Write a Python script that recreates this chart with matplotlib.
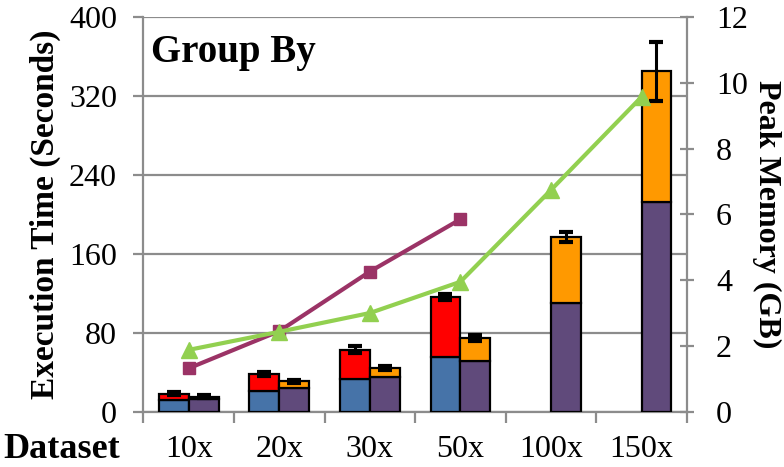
import numpy as np
import matplotlib
matplotlib.use('Agg')
import matplotlib.pyplot as plt
from matplotlib.ticker import FixedLocator

plt.rcParams['font.family'] = ['Liberation Serif', 'DejaVu Serif']

# Dataset scale factors
datasets = ['10x', '20x', '30x', '50x', '100x', '150x']

# Left bar: two-part stacked execution time (seconds)
left_lower = [12, 21, 33, 55.5, np.nan, np.nan]
left_upper = [6, 17, 30, 60.5, np.nan, np.nan]
left_err = [1.5, 2, 3.5, 3, np.nan, np.nan]

# Right bar: two-part stacked execution time (seconds)
right_lower = [12.5, 24.5, 35.5, 51, 110, 213]
right_upper = [2.5, 6.5, 9, 24, 67, 132]
right_err = [1.5, 1.5, 2, 3, 5.5, 30]

# Peak memory (GB)
mem_left = [1.32, 2.45, 4.26, 5.85]
mem_right = [1.88, 2.43, 3.0, 3.95, 6.74, 9.57]

BLUE = '#4673A8'
RED = '#FF0000'
PURPLE = '#604A7B'
ORANGE = '#FF9900'
MAROON = '#9B3366'
GREEN = '#92D050'
GRAY = '#8C8C8C'

x = np.arange(len(datasets))
w = 0.33

fig = plt.figure(figsize=(7.84, 4.67), dpi=100)
ax = fig.add_axes([0.183, 0.1184, 0.693, 0.8452])

ll = np.array(left_lower)
lu = np.array(left_upper)
rl = np.array(right_lower)
ru = np.array(right_upper)
has_left = ~np.isnan(ll)

bar_kw = dict(width=w, edgecolor='black', linewidth=1.6, zorder=3)
ax.bar(x[has_left] - w / 2, ll[has_left], color=BLUE, **bar_kw)
ax.bar(x[has_left] - w / 2, lu[has_left], bottom=ll[has_left], color=RED, **bar_kw)
ax.bar(x + w / 2, rl, color=PURPLE, **bar_kw)
ax.bar(x + w / 2, ru, bottom=rl, color=ORANGE, **bar_kw)

err_kw = dict(fmt='none', ecolor='black', elinewidth=2.2, capsize=5, capthick=3, zorder=4)
ax.errorbar(x[has_left] - w / 2, (ll + lu)[has_left], yerr=np.array(left_err)[has_left], **err_kw)
ax.errorbar(x + w / 2, rl + ru, yerr=right_err, **err_kw)

ax.set_xlim(-0.5, len(datasets) - 0.5)
ax.set_ylim(0, 400)
ax.set_yticks([0, 80, 160, 240, 320, 400])
ax.yaxis.grid(True, color=GRAY, linewidth=1.6, zorder=0)
ax.set_axisbelow(True)

ax.set_xticks(x)
ax.set_xticklabels(datasets)
ax.xaxis.set_minor_locator(FixedLocator(np.arange(len(datasets) + 1) - 0.5))
ax.tick_params(axis='x', which='major', length=0, pad=17, labelsize=23)
ax.tick_params(axis='x', which='minor', length=8, width=1.6, color=GRAY, direction='out')
ax.tick_params(axis='y', length=7, width=1.6, color=GRAY, direction='out', pad=12, labelsize=23)

for side in ['top', 'right']:
    ax.spines[side].set_visible(False)
for side in ['left', 'bottom']:
    ax.spines[side].set_color(GRAY)
    ax.spines[side].set_linewidth(1.6)

ax.set_ylabel('Execution Time (Seconds)', fontsize=24, fontweight='bold', labelpad=6)

ax2 = ax.twinx()
ax2.set_ylim(0, 12)
ax2.set_yticks(range(0, 13, 2))
ax2.plot(x[:len(mem_left)], mem_left, color=MAROON, linewidth=3, marker='s',
         markersize=9, zorder=5)
ax2.plot(x, mem_right, color=GREEN, linewidth=3, marker='^', markersize=11, zorder=5)
for side in ['top', 'left', 'bottom']:
    ax2.spines[side].set_visible(False)
ax2.spines['right'].set_color(GRAY)
ax2.spines['right'].set_linewidth(1.6)
ax2.tick_params(axis='y', length=10, width=1.6, color=GRAY, direction='inout', pad=16,
                labelsize=23)
ax2.set_ylabel('Peak Memory (GB)', fontsize=23, fontweight='bold', rotation=270,
               labelpad=24)

ax.text(0.014, 0.886, 'Group By', transform=ax.transAxes, fontsize=28,
        fontweight='bold', va='baseline', ha='left', zorder=6)
fig.text(0.004, 0.02, 'Dataset', fontsize=26, fontweight='bold', ha='left', va='baseline')

fig.savefig('out.png', dpi=100)
